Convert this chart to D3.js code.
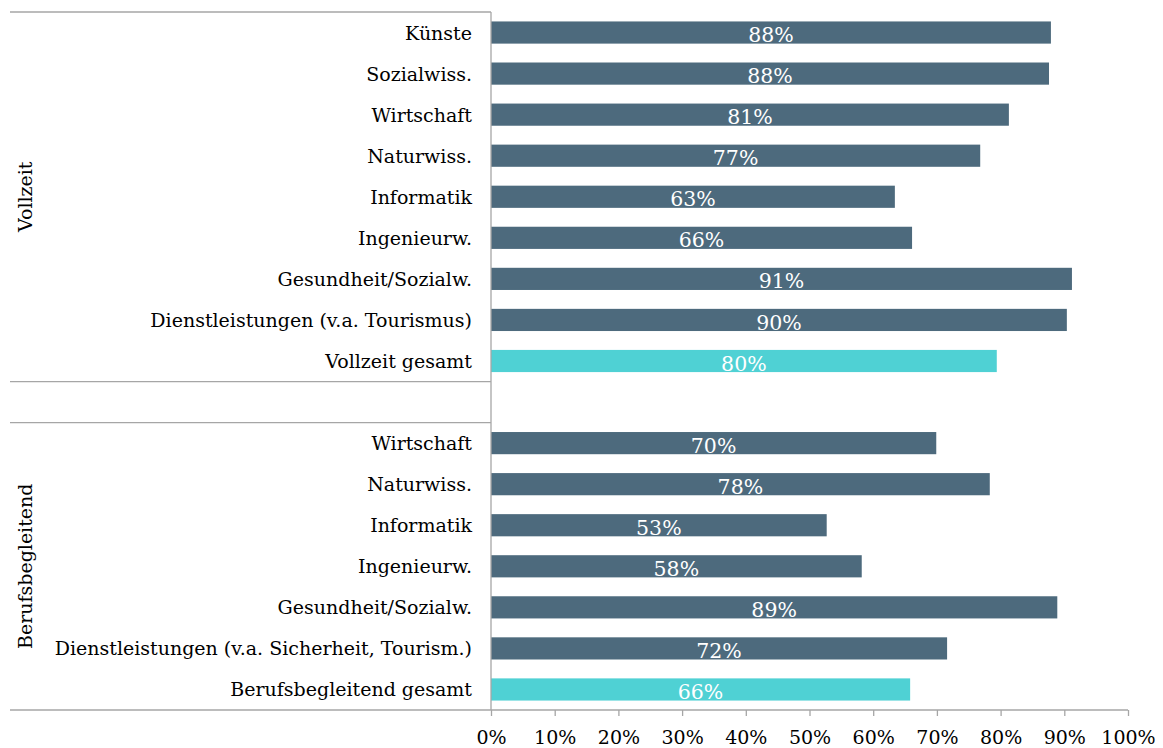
<!DOCTYPE html>
<html><head><meta charset="utf-8">
<script src="https://cdn.jsdelivr.net/npm/d3@7"></script>
<style>body{margin:0;background:#fff}svg text{font-family:"DejaVu Serif",serif}</style>
</head><body><svg id="c" width="1163" height="748"></svg>
<script>
const categories = ["Künste","Sozialwiss.","Wirtschaft","Naturwiss.","Informatik","Ingenieurw.","Gesundheit/Sozialw.","Dienstleistungen (v.a. Tourismus)","Vollzeit gesamt","",
"Wirtschaft","Naturwiss.","Informatik","Ingenieurw.","Gesundheit/Sozialw.","Dienstleistungen (v.a. Sicherheit, Tourism.)","Berufsbegleitend gesamt"];
const values = [87.9,87.6,81.3,76.8,63.4,66.1,91.2,90.4,79.4,null,69.9,78.3,52.7,58.2,88.9,71.6,65.8];
const valueLabels = ["88%","88%","81%","77%","63%","66%","91%","90%","80%","","70%","78%","53%","58%","89%","72%","66%"];
const isTotal = [0,0,0,0,0,0,0,0,1,0,0,0,0,0,0,0,1];
const groups = [{name:"Vollzeit",from:0,to:8},{name:"Berufsbegleitend",from:10,to:16}];
const ticks = [0,10,20,30,40,50,60,70,80,90,100];

const svg = d3.select("#c");
const x0=491,x1=1128,yTop=12,yBot=710;
const x = d3.scaleLinear().domain([0,100]).range([x0,x1]);
const idx = d3.range(categories.length);
const y = d3.scaleBand().domain(idx).range([yTop,yBot]).paddingInner(0.46).paddingOuter(0.23);
const step = y.step();
const grey="#a6a6a6";

// bars
idx.forEach(i=>{
  if(values[i]==null) return;
  svg.append("rect").attr("x",x(0)).attr("y",y(i)).attr("width",x(values[i])-x(0)).attr("height",y.bandwidth())
    .attr("fill",isTotal[i]?"#4fd1d4":"#4d6a7d");
  svg.append("text").attr("x",(x(0)+x(values[i]))/2).attr("y",y(i)+y.bandwidth()-1.5)
    .attr("text-anchor","middle").attr("fill","#fff").attr("font-size",20.5).text(valueLabels[i]);
  svg.append("text").attr("x",472).attr("y",y(i)+y.bandwidth()/2+7)
    .attr("text-anchor","end").attr("fill","#000").attr("font-size",19).text(categories[i]);
});

// lines
svg.append("line").attr("x1",10).attr("x2",x0).attr("y1",yTop).attr("y2",yTop).attr("stroke",grey).attr("stroke-width",1.3);
svg.append("line").attr("x1",10).attr("x2",x0).attr("y1",yTop+9*step).attr("y2",yTop+9*step).attr("stroke",grey).attr("stroke-width",1.3);
svg.append("line").attr("x1",10).attr("x2",x0).attr("y1",yTop+10*step).attr("y2",yTop+10*step).attr("stroke",grey).attr("stroke-width",1.3);
svg.append("line").attr("x1",x0).attr("x2",x0).attr("y1",yTop).attr("y2",yBot).attr("stroke",grey).attr("stroke-width",1.3);

// x axis
const ax = svg.append("g").attr("transform",`translate(0,${yBot})`)
  .call(d3.axisBottom(x).tickValues(ticks).tickFormat(d=>d+"%").tickSize(6).tickSizeOuter(0));
ax.select(".domain").remove();
ax.selectAll("line").attr("stroke",grey).attr("stroke-width",1.3);
ax.selectAll("text").attr("font-size",19).attr("fill","#000").attr("dy",0).attr("y",34).style("font-family","DejaVu Serif");
svg.append("line").attr("x1",10).attr("x2",x1).attr("y1",yBot).attr("y2",yBot).attr("stroke",grey).attr("stroke-width",1.3);

// group labels
groups.forEach(g=>{
  const cy = (yTop+g.from*step + yTop+(g.to+1)*step)/2;
  svg.append("text").attr("transform",`translate(32,${cy}) rotate(-90)`).attr("text-anchor","middle")
    .attr("font-size",19).attr("fill","#000").text(g.name);
});
</script></body></html>
